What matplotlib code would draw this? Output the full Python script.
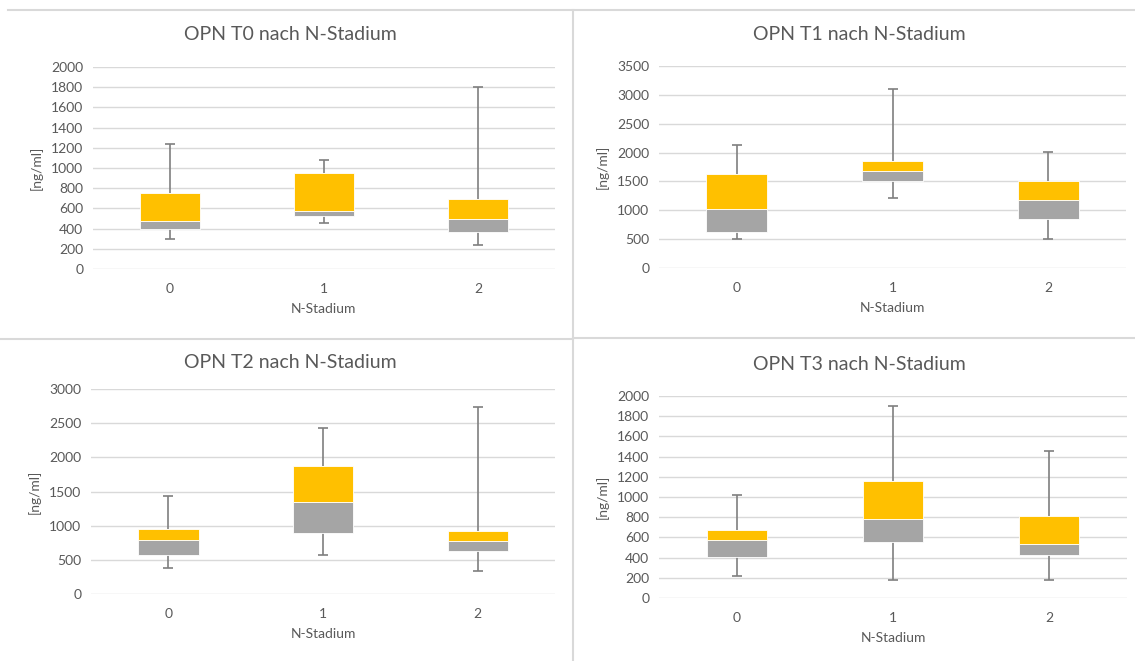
import matplotlib.pyplot as plt
from matplotlib.lines import Line2D
import numpy as np

plt.rcParams['font.family'] = ['Lato', 'DejaVu Sans']

# N-Stadium categories
categories = ["0", "1", "2"]

titles = ["OPN T0 nach N-Stadium", "OPN T1 nach N-Stadium",
          "OPN T2 nach N-Stadium", "OPN T3 nach N-Stadium"]

# box plot statistics per panel [ng/ml]
t0_min = [300, 452, 240]
t0_q1 = [400, 522, 370]
t0_med = [480, 578, 500]
t0_q3 = [752, 950, 698]
t0_max = [1240, 1078, 1800]

t1_min = [502, 1210, 502]
t1_q1 = [625, 1510, 852]
t1_med = [1020, 1678, 1182]
t1_q3 = [1625, 1850, 1500]
t1_max = [2132, 3096, 2018]

t2_min = [378, 572, 342]
t2_q1 = [568, 890, 630]
t2_med = [788, 1345, 774]
t2_q3 = [948, 1877, 915]
t2_max = [1433, 2425, 2740]

t3_min = [215, 182, 182]
t3_q1 = [410, 552, 430]
t3_med = [572, 786, 537]
t3_q3 = [672, 1155, 813]
t3_max = [1018, 1900, 1460]

y_tops = [2000, 3500, 3000, 2000]
y_steps = [200, 500, 500, 200]

panels = [
    (t0_min, t0_q1, t0_med, t0_q3, t0_max),
    (t1_min, t1_q1, t1_med, t1_q3, t1_max),
    (t2_min, t2_q1, t2_med, t2_q3, t2_max),
    (t3_min, t3_q1, t3_med, t3_q3, t3_max),
]

# axes rectangles in figure fractions, and title heights
rects = [
    [0.0819, 0.593, 0.407, 0.3056],
    [0.5806, 0.5946, 0.4115, 0.3056],
    [0.0802, 0.1014, 0.4088, 0.310],
    [0.5806, 0.0953, 0.4123, 0.3056],
]
title_pos = [(290 / 1135, 1 - 35 / 661), (859 / 1135, 1 - 35 / 661),
             (290 / 1135, 1 - 362 / 661), (859 / 1135, 1 - 365 / 661)]

YELLOW = "#FFC000"
GREY = "#A5A5A5"
WHISK = "#7F7F7F"
TEXT = "#595959"
GRID = "#D9D9D9"

fig = plt.figure(figsize=(11.35, 6.61), dpi=100)

for i, (mn, q1, md, q3, mx) in enumerate(panels):
    ax = fig.add_axes(rects[i])
    x = np.arange(len(categories))
    mn, q1, md, q3, mx = map(np.array, (mn, q1, md, q3, mx))

    # whiskers (behind boxes) with caps only at min / max
    ax.vlines(x, mn, q1, color=WHISK, linewidth=1.2, zorder=2)
    ax.vlines(x, q3, mx, color=WHISK, linewidth=1.2, zorder=2)
    ax.plot(x, mn, ls="none", marker="_", ms=6.5, mew=1.2, color=WHISK, zorder=2)
    ax.plot(x, mx, ls="none", marker="_", ms=6.5, mew=1.2, color=WHISK, zorder=2)

    # stacked boxes: Q1->median grey, median->Q3 yellow
    ax.bar(x, md - q1, bottom=q1, width=0.39, color=GREY,
           edgecolor="white", linewidth=0.6, zorder=3)
    ax.bar(x, q3 - md, bottom=md, width=0.39, color=YELLOW,
           edgecolor="white", linewidth=0.6, zorder=3)

    ax.set_xlim(-0.5, 2.5)
    ax.set_ylim(0, y_tops[i])
    ax.set_yticks(np.arange(0, y_tops[i] + 1, y_steps[i]))
    ax.set_xticks(x)
    ax.set_xticklabels(categories)
    ax.grid(axis="y", color=GRID, linewidth=1.0)
    ax.set_axisbelow(True)
    for s in ax.spines.values():
        s.set_visible(False)
    ax.tick_params(length=0, colors=TEXT, labelsize=10)
    ax.tick_params(axis="y", pad=7)
    ax.tick_params(axis="x", pad=10)
    ax.set_xlabel("N-Stadium", color=TEXT, fontsize=10, labelpad=6)
    ax.set_ylabel("[ng/ml]", color=TEXT, fontsize=10, labelpad=6)

    fig.text(title_pos[i][0], title_pos[i][1], titles[i], ha="center",
             va="center", fontsize=14, color=TEXT)

# panel separators like the pasted screenshot
def px(xp, yp):
    return xp / 1135, 1 - yp / 661

sep = dict(color="#D9D9D9", linewidth=1.5, transform=fig.transFigure)
fig.add_artist(Line2D([px(8, 0)[0], 1.0], [px(0, 10)[1]] * 2, **sep))
fig.add_artist(Line2D([px(573, 0)[0]] * 2, [px(0, 10)[1], 0.0], **sep))
fig.add_artist(Line2D([0.0, px(573, 0)[0]], [px(0, 339)[1]] * 2, **sep))
fig.add_artist(Line2D([px(573, 0)[0], 1.0], [px(0, 338)[1]] * 2, **sep))

plt.savefig("out.png", dpi=100)
